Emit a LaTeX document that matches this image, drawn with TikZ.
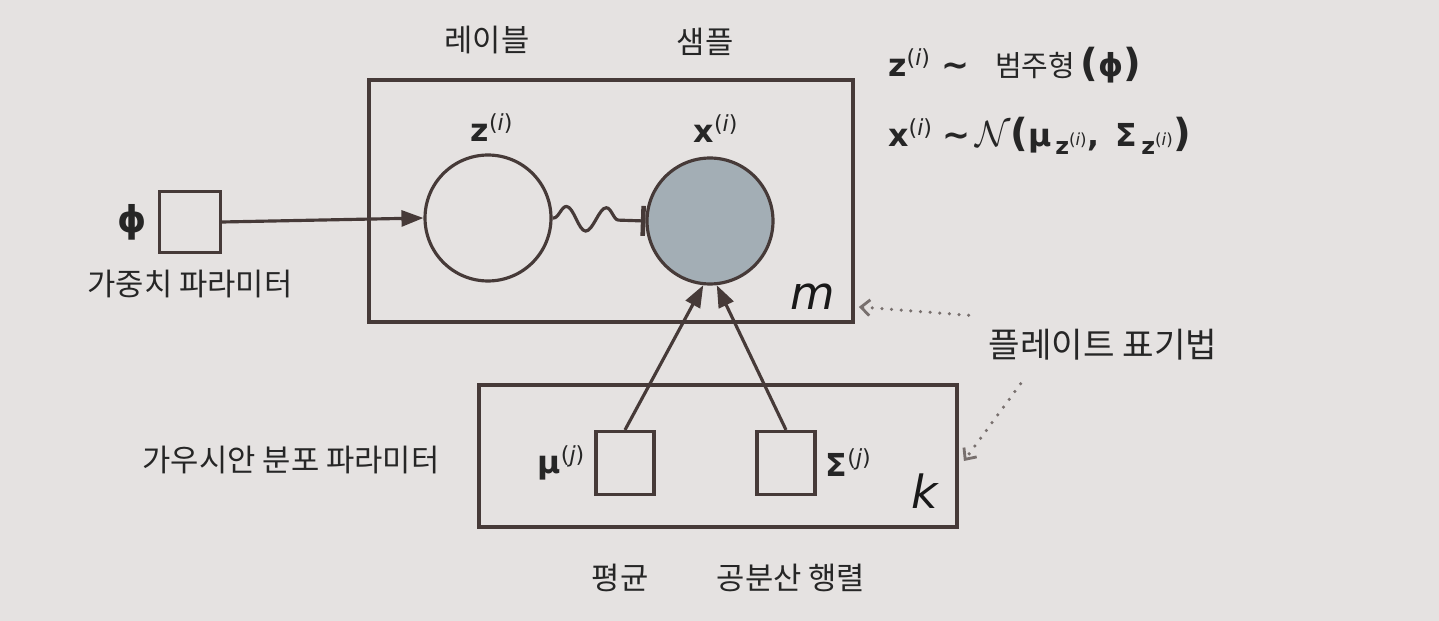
\documentclass[tikz,border=0pt]{standalone}
\usepackage{fontspec}
\setmainfont{DejaVu Sans}
\newfontfamily\krfont{Noto Sans CJK KR}
\usetikzlibrary{arrows.meta,decorations.pathmorphing,calc,positioning}
\definecolor{pagebg}{RGB}{229,226,225}
\definecolor{ink}{RGB}{70,58,56}
\definecolor{obsfill}{RGB}{163,174,181}
\definecolor{notegray}{RGB}{120,112,110}
\newcommand{\supidx}[1]{\textsuperscript{\mdseries(\textit{#1})}}
\newcommand{\subidx}[1]{\raisebox{-0.5ex}{\fontsize{13.5}{14}\selectfont\,z\supidx{#1}}}
\newcommand{\bigparen}[1]{{\fontsize{22}{22}\selectfont#1}}
\newcommand{\simto}{{\fontsize{19}{19}\selectfont\textasciitilde}}
\tikzset{
  plate/.style={ % image of a plate
    draw=ink, line width=2.2pt, rectangle, inner sep=0pt
  },
  latent/.style={ % hidden random variable
    draw=ink, line width=1.8pt, circle, minimum size=2.52cm, inner sep=0pt
  },
  observed/.style={latent, fill=obsfill},
  param/.style={ % fixed parameter
    draw=ink, line width=1.8pt, rectangle,
    minimum width=1.16cm, minimum height=1.26cm, inner sep=0pt
  },
  edge/.style={draw=ink, line width=1.8pt},
  pointer/.style={
    draw=notegray, line width=2pt, line cap=round,
    dash pattern=on 0pt off 5.5pt,
    -{Straight Barb[length=5pt,width=9pt,line width=1.6pt]}
  },
  krlabel/.style={font=\krfont\fontsize{17.5}{19}\selectfont, text=black!85},
  varlabel/.style={font=\bfseries\fontsize{18}{20}\selectfont, text=black!85},
  platelabel/.style={font=\itshape\fontsize{26}{28}\selectfont, text=black!90}
}
\begin{document}
\begin{tikzpicture}[
    x=0.02cm, y=-0.02cm,
    >={Triangle[length=0.44cm,width=0.32cm]}
  ]
  \fill[pagebg] (0,0) rectangle (1439,621);

  % plates
  \node[plate, minimum width=9.68cm, minimum height=4.84cm] (mplate) at (611,201) {};
  \node[plate, minimum width=9.56cm, minimum height=2.84cm] (kplate) at (718,456) {};

  % variables
  \node[latent] (zlat) at (488,218) {};
  \node[observed] (xobs) at (710,221) {};
  \node[param, minimum width=1.22cm, minimum height=1.22cm] (phibox) at (190,222) {};
  \node[param] (mubox) at (625,463) {};
  \node[param] (sigbox) at (786,463) {};

  % names
  \node[varlabel] (zname) at (492,128) {z\supidx{i}};
  \node[varlabel] (xname) at (716,129) {x\supidx{i}};
  \node[varlabel, font=\bfseries\fontsize{21}{22}\selectfont, left=0.1cm of phibox] (phiname) {ϕ};
  \node[varlabel, left=0.06cm of mubox] (muname) {μ\supidx{j}};
  \node[varlabel, right=0.06cm of sigbox] (signame) {Σ\supidx{j}};
  \node[platelabel] (mname) at (813,297) {m};
  \node[platelabel] (kname) at (925,491) {k};

  % captions
  \node[krlabel] (zcap) at (487,40) {레이블};
  \node[krlabel] (xcap) at (705,42) {샘플};
  \node[krlabel, below=0.2cm of phibox] (phicap) {가중치 파라미터};
  \node[krlabel] (gausscap) at (291,460) {가우시안 분포 파라미터};
  \node[krlabel] (mucap) at (620,578) {평균};
  \node[krlabel] (sigcap) at (791,578) {공분산 행렬};
  \node[krlabel, font=\krfont\fontsize{19.5}{21}\selectfont] (platenote) at (1103,345) {플레이트 표기법};

  % distributions
  \node[varlabel, anchor=west] (zdist) at (882,65)
    {z\supidx{i}\hspace{0.35em}\simto\hspace{0.8em}{\krfont\mdseries\fontsize{16.5}{18}\selectfont 범주형}\,\bigparen{(}ϕ\bigparen{)}};
  \node[varlabel, anchor=west] (xdist) at (882,136)
    {x\supidx{i}\hspace{0.3em}\simto\hspace{0.15em}{\mdseries\fontsize{22}{22}\selectfont$\mathcal{N}$}\bigparen{(}μ\subidx{i}, \,Σ\subidx{i}\bigparen{)}};

  % connectors
  \draw[edge, ->] (phibox.east) -- (zlat.west);
  \draw[edge, decorate,
    decoration={snake, amplitude=0.24cm, segment length=0.8cm,
      pre length=0.02cm, post length=0.4cm},
    -{Bar[width=0.6cm,line width=2.6pt]}] (zlat.east) -- (xobs.west);
  \draw[edge, ->] (mubox.north) -- (xobs.-96);
  \draw[edge, ->] (sigbox.north) -- (xobs.-84);
  \draw[pointer] ($(platenote.north west)+(-14,-8)$) -- ($(mplate.south east)+(4,-17)$);
  \draw[pointer] ($(platenote.south west)+(38,17)$) -- ($(kplate.east)+(5,5)$);
\end{tikzpicture}
\end{document}
